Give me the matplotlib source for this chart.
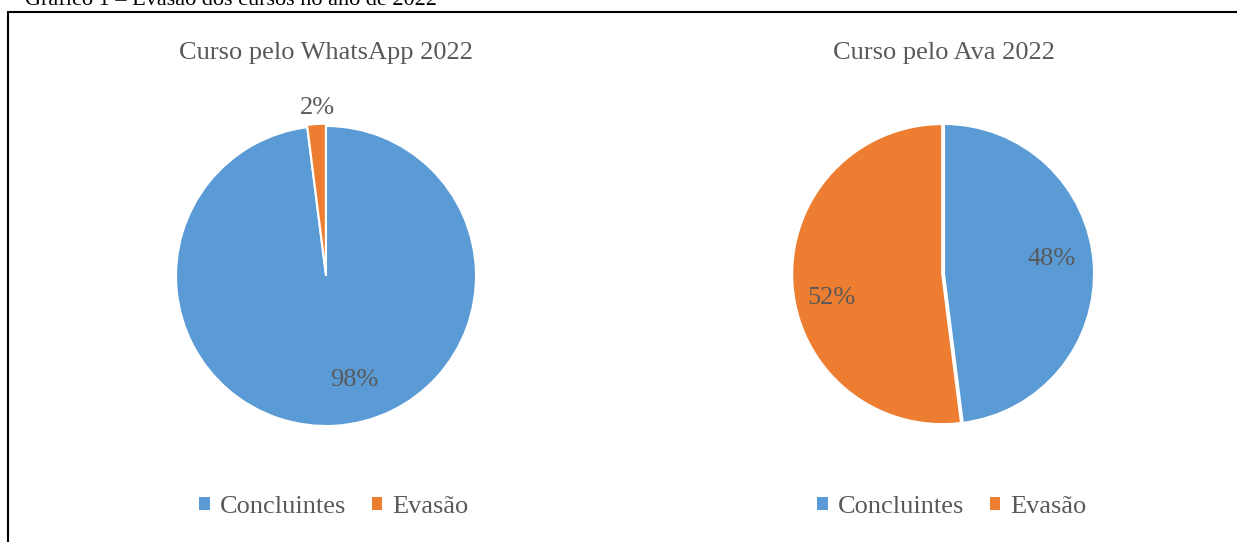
import matplotlib.pyplot as plt
import matplotlib.patches as patches

plt.rcParams['font.family'] = ['Liberation Serif', 'DejaVu Serif']

categorias = ['Concluintes', 'Evasão']
whatsapp = [98, 2]
ava = [48, 52]
titulos = ['Curso pelo WhatsApp 2022', 'Curso pelo Ava 2022']
cores = ['#5B9BD5', '#ED7D31']
cinza = '#595959'

W, H = 1237, 542
fig = plt.figure(figsize=(W / 100, H / 100), dpi=100)

# moldura do grafico (corta fora a direita e embaixo)
fig.add_artist(patches.Rectangle((8 / W, -0.05), 1.2, 1 - 12 / H + 0.05,
                                 transform=fig.transFigure, fill=False,
                                 edgecolor='black', linewidth=1.5))
fig.text(25 / W, 1 - 5 / H, 'Gráfico 1 – Evasão dos cursos no ano de 2022',
         fontsize=16, color='black', va='baseline', ha='left')

R = 150


def pizza(cx, cy, valores, titulo, explode, pos_rotulos):
    ax = fig.add_axes([(cx - R) / W, 1 - (cy + R) / H, 2 * R / W, 2 * R / H])
    wedges, textos, pcts = ax.pie(valores, colors=cores, startangle=90,
                                  counterclock=False, explode=explode,
                                  autopct='%1.0f%%',
                                  wedgeprops=dict(edgecolor='white', linewidth=1.5),
                                  textprops=dict(fontsize=19, color=cinza))
    # rotulos no lugar em que o Excel os coloca
    for t, p in zip(pcts, pos_rotulos):
        t.set_position(p)
    ax.set_xlim(-1, 1)
    ax.set_ylim(-1, 1)
    ax.set_aspect('equal')
    ax.axis('off')
    fig.text(cx / W, 1 - 53 / H, titulo, fontsize=19, color=cinza,
             ha='center', va='center')
    handles = [patches.Rectangle((0, 0), 1, 1, facecolor=c) for c in cores]
    fig.legend(handles, categorias, loc='center', ncol=2,
               bbox_to_anchor=((cx + 8) / W, 1 - 507 / H), frameon=False,
               fontsize=19, labelcolor=cinza, handlelength=0.4,
               handleheight=0.4, handletextpad=0.4, columnspacing=0.95)
    return ax


pizza(326, 276, whatsapp, titulos[0], [0, 0.015], [(0.19, -0.69), (-0.06, 1.12)])
pizza(944, 274, ava, titulos[1], [0, 0.012], [(0.72, 0.1), (-0.75, -0.16)])

fig.savefig('out.png', dpi=100)
